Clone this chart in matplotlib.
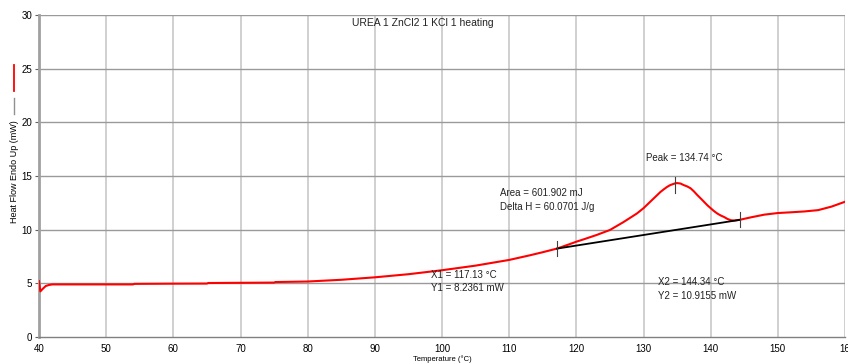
import matplotlib
matplotlib.use("Agg")
import matplotlib.pyplot as plt
from matplotlib.lines import Line2D

plt.rcParams['font.family'] = ['Liberation Sans', 'DejaVu Sans']

temperature = [40.0, 40.2, 40.5, 41.0, 41.5, 42.0, 45, 50, 54, 54.2, 60, 65, 65.2, 70, 75, 75.2,
               80, 85, 90, 95, 100, 105, 110, 113, 115, 117.13, 119, 120, 121, 123, 125, 127,
               129, 130, 131, 131.5, 132, 132.5, 133, 133.5, 134, 134.74, 135, 135.5, 136, 136.5,
               137, 137.5, 138, 138.5, 139, 139.5, 140, 140.5, 141, 141.5, 142,
               142.5, 143, 143.5, 144.34, 146, 148, 150, 152, 154, 156, 158, 160]
heat_flow = [5.2, 4.25, 4.45, 4.75, 4.85, 4.9, 4.9, 4.9, 4.9, 4.95, 4.97, 4.98, 5.03, 5.05, 5.07, 5.12,
             5.17, 5.33, 5.56, 5.85, 6.22, 6.65, 7.18, 7.6, 7.9, 8.24, 8.65, 8.88, 9.08, 9.5, 9.97, 10.7,
             11.5, 12.0, 12.6, 12.9, 13.2, 13.5, 13.75, 13.98, 14.16, 14.32, 14.34, 14.3, 14.15, 14.03,
             13.86, 13.57, 13.23, 12.92, 12.6, 12.28, 12.0, 11.73, 11.5, 11.32, 11.18,
             11.0, 10.88, 10.85, 10.92, 11.15, 11.4, 11.55, 11.62, 11.7, 11.82, 12.15, 12.6]

baseline_x = [117.13, 144.34]
baseline_y = [8.2361, 10.9155]
peak_x = 134.74

x_ticks = [40, 50, 60, 70, 80, 90, 100, 110, 120, 130, 140, 150, 160]
x_tick_labels = ['40', '50', '60', '70', '80', '90', '100', '110', '120', '130', '140', '150', '16']
y_ticks = [0, 5, 10, 15, 20, 25, 30]

fig = plt.figure(figsize=(8.48, 3.64), dpi=100)
ax = fig.add_axes([39/848, 27/364, 806/848, 322/364])
ax.set_xlim(40, 160)
ax.set_ylim(0, 30)

for xv in x_ticks[1:]:
    ax.axvline(xv, color='#c8c8c8', lw=1.2, zorder=0)
for yv in y_ticks[1:]:
    ax.axhline(yv, color='#9a9a9a', lw=1.0, zorder=0)

for s in ['top', 'right']:
    ax.spines[s].set_visible(False)
ax.spines['left'].set_color('#a0a0a0')
ax.spines['left'].set_linewidth(2)
ax.spines['bottom'].set_color('#808080')
ax.spines['bottom'].set_linewidth(1)

ax.set_xticks(x_ticks)
ax.set_xticklabels(x_tick_labels)
ax.set_yticks(y_ticks)
ax.tick_params(axis='both', labelsize=7, color='#606060', length=3, width=0.8, pad=2)
ax.tick_params(axis='x', length=0, pad=5)

ax.plot(temperature, heat_flow, color='#ff0000', lw=1.5, zorder=3)
ax.plot(baseline_x, baseline_y, color='black', lw=1.3, zorder=4)

ax.plot([baseline_x[0]] * 2, [baseline_y[0] - 0.7, baseline_y[0] + 0.7], color='#404040', lw=0.8, zorder=5)
ax.plot([baseline_x[1]] * 2, [baseline_y[1] - 0.7, baseline_y[1] + 0.7], color='#404040', lw=0.8, zorder=5)
ax.plot([peak_x] * 2, [13.45, 14.95], color='#404040', lw=0.8, zorder=5)

fs = 7
tc = '#222222'
ax.text(130.3, 16.7, 'Peak = 134.74 °C', fontsize=fs, color=tc, va='center')
ax.text(108.7, 13.4, 'Area = 601.902 mJ', fontsize=fs, color=tc, va='center')
ax.text(108.7, 12.1, 'Delta H = 60.0701 J/g', fontsize=fs, color=tc, va='center')
ax.text(98.3, 5.78, 'X1 = 117.13 °C', fontsize=fs, color=tc, va='center')
ax.text(98.3, 4.57, 'Y1 = 8.2361 mW', fontsize=fs, color=tc, va='center')
ax.text(132.2, 5.13, 'X2 = 144.34 °C', fontsize=fs, color=tc, va='center')
ax.text(132.2, 3.82, 'Y2 = 10.9155 mW', fontsize=fs, color=tc, va='center')
ax.text(86.6, 29.25, 'UREA 1 ZnCl2 1 KCl 1 heating', fontsize=7.5, color=tc, va='center')

ax.set_xlabel('Temperature (°C)', fontsize=5.5, labelpad=1)
fig.text(15/848, 1 - 172/364, 'Heat Flow Endo Up (mW)', rotation=90, fontsize=6.5,
         ha='center', va='center')
fig.add_artist(Line2D([14/848, 14/848], [1 - 65/364, 1 - 91/364], color='#ff0000', lw=1.3))
fig.add_artist(Line2D([14/848, 14/848], [1 - 98/364, 1 - 114/364], color='#909090', lw=1.0))

fig.savefig('out.png', dpi=100)
